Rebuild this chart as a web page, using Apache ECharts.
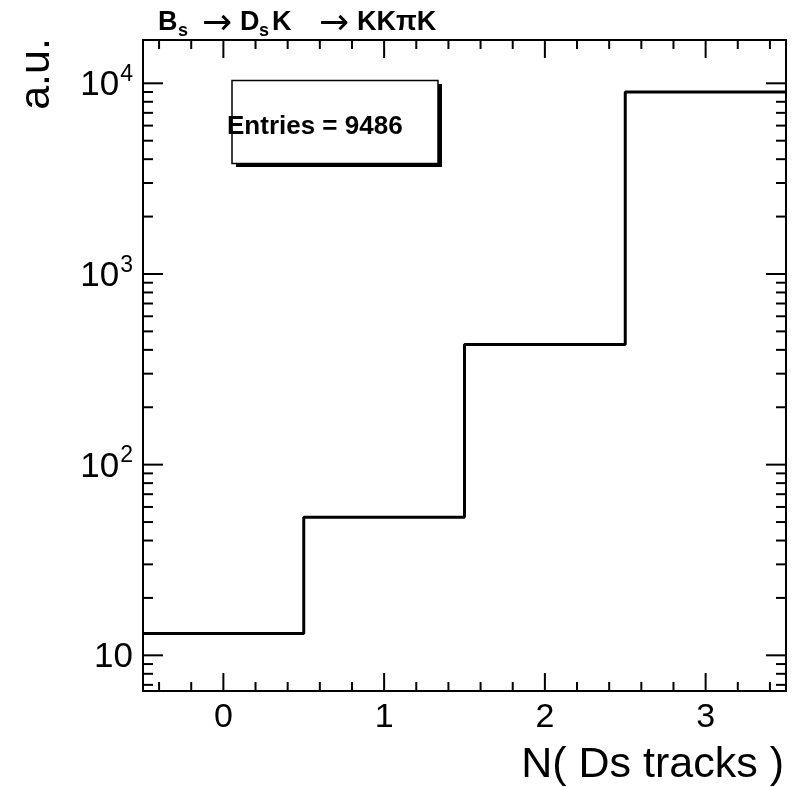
<!DOCTYPE html>
<html>
<head>
<meta charset="utf-8">
<script src="https://cdn.jsdelivr.net/npm/echarts@6/dist/echarts.min.js"></script>
<style>
html,body{margin:0;padding:0;background:#fff;}
#chart{width:798px;height:787px;}
</style>
</head>
<body>
<div id="chart"></div>
<script>
// ---- data ----
const binEdges = [-0.5, 0.5, 1.5, 2.5, 3.5];
const binCenters = [0, 1, 2, 3];
const binCounts = [13, 53, 427, 8993];
const entries = 9486;
const xRange = [-0.5, 3.5];
const yRange = [6.5, 16870];
const xName = 'N( Ds tracks )';
const yName = 'a.u.';

const FONT = '"Liberation Sans", Arial, Helvetica, sans-serif';
const SYM = '"DejaVu Sans", sans-serif';

// histogram step points from bin edges
const stepData = [];
for (let i = 0; i < binCounts.length; i++) stepData.push([binEdges[i], binCounts[i]]);
stepData.push([binEdges[binEdges.length - 1], binCounts[binCounts.length - 1]]);

// tick positions
const xTicks = [];
for (let i = -2; i <= 17; i++) xTicks.push(i / 5);
const yTicks = [];
[1, 10, 100, 1000].forEach(d => { for (let m = 1; m <= 9; m++) { const v = d * m; if (v >= yRange[0] && v <= yRange[1]) yTicks.push(v); } });
yTicks.push(10000);

const chart = echarts.init(document.getElementById('chart'), null, {renderer: 'canvas'});

function isDecade(v) { const e = Math.log10(v); return Math.abs(e - Math.round(e)) < 1e-6; }

function tPiece(text, x, y, size, opts) {
  return Object.assign({
    type: 'text', x: x, y: y, silent: true,
    style: {text: text, fontFamily: FONT, fontWeight: 'bold', fontSize: size, fill: '#000', align: 'left', verticalAlign: 'middle'}
  }, opts || {});
}

const titleParts = [
  tPiece('B', 158, 22.5, 27),
  tPiece('s', 178, 31, 18),
  {type: 'text', x: 202, y: 25, silent: true, style: {text: '→', fontFamily: SYM, fontSize: 36, fill: '#000', align: 'left', verticalAlign: 'middle'}},
  tPiece('D', 240, 22.5, 27),
  tPiece('s', 259, 31, 18),
  tPiece('K', 272, 22.5, 27),
  {type: 'text', x: 319, y: 25, silent: true, style: {text: '→', fontFamily: SYM, fontSize: 36, fill: '#000', align: 'left', verticalAlign: 'middle'}},
  tPiece('KKπK', 357, 22.5, 27)
];

const option = {
  animation: false,
  backgroundColor: '#fff',
  grid: {left: 143, right: 12, top: 40, bottom: 96, show: true, borderColor: '#000', borderWidth: 2, backgroundColor: 'transparent'},
  xAxis: {
    type: 'value', min: xRange[0], max: xRange[1], interval: 0.5,
    axisLine: {show: false}, axisTick: {show: false}, splitLine: {show: false},
    axisLabel: {
      margin: 10, color: '#000', fontFamily: FONT, fontSize: 34,
      formatter: v => (Math.abs(v - Math.round(v)) < 1e-6 && v > -0.5 && v < 3.5) ? String(Math.round(v)) : ''
    }
  },
  yAxis: {
    type: 'log', logBase: 10, min: yRange[0], max: yRange[1],
    axisLine: {show: false}, axisTick: {show: false}, splitLine: {show: false},
    axisLabel: {
      margin: 10, color: '#000', fontFamily: FONT, fontSize: 34,
      showMinLabel: false, showMaxLabel: false,
      formatter: v => {
        if (!isDecade(v)) return '';
        const e = Math.round(Math.log10(v));
        if (e === 1) return '{b|10}';
        return '{b|10}{sup|' + e + '}';
      },
      rich: {
        b: {fontFamily: FONT, fontSize: 35, color: '#000', lineHeight: 40, verticalAlign: 'bottom'},
        sup: {fontFamily: FONT, fontSize: 23, color: '#000', lineHeight: 40, verticalAlign: 'top', padding: [0, 0, 0, 1]}
      }
    }
  },
  series: [
    {
      type: 'line', step: 'end', data: stepData, symbol: 'none',
      lineStyle: {color: '#000', width: 3}, z: 5, silent: true
    },
    {
      type: 'custom', coordinateSystem: 'cartesian2d', data: [[binCenters[0], binCounts[0]]],
      silent: true, clip: false, z: 10,
      renderItem: function (params, api) {
        const cs = params.coordSys;
        const L = cs.x, R = cs.x + cs.width, T = cs.y, B = cs.y + cs.height;
        const ch = [];
        const st = {stroke: '#000', lineWidth: 2};
        xTicks.forEach(v => {
          const x = api.coord([v, yRange[0]])[0];
          const major = Math.abs(v - Math.round(v)) < 1e-6;
          const len = major ? 18 : 9;
          ch.push({type: 'line', shape: {x1: x, y1: B, x2: x, y2: B - len}, style: st});
          ch.push({type: 'line', shape: {x1: x, y1: T, x2: x, y2: T + len}, style: st});
        });
        yTicks.forEach(v => {
          const y = api.coord([xRange[0], v])[1];
          const len = isDecade(v) ? 20 : 10;
          ch.push({type: 'line', shape: {x1: L, y1: y, x2: L + len, y2: y}, style: st});
          ch.push({type: 'line', shape: {x1: R, y1: y, x2: R - len, y2: y}, style: st});
        });
        return {type: 'group', children: ch};
      }
    }
  ],
  graphic: titleParts.concat([
    {type: 'rect', shape: {x: 236, y: 84, width: 206, height: 83}, style: {fill: '#000'}, silent: true},
    {type: 'rect', shape: {x: 232, y: 80.5, width: 206, height: 83}, style: {fill: '#fff', stroke: '#000', lineWidth: 1.5}, silent: true},
    {
      type: 'text', x: 227, y: 127, silent: true,
      style: {text: 'Entries = ' + entries, fontFamily: FONT, fontWeight: 'bold', fontSize: 26, fill: '#000', verticalAlign: 'middle', align: 'left'}
    },
    {
      type: 'text', x: 784, y: 765, silent: true,
      style: {text: xName, fontFamily: FONT, fontSize: 43, fill: '#000', align: 'right', verticalAlign: 'middle'}
    },
    {
      type: 'text', x: 37, y: 74, rotation: Math.PI / 2, silent: true,
      style: {text: yName, fontFamily: FONT, fontSize: 43, fill: '#000', align: 'center', verticalAlign: 'middle'}
    }
  ])
};
chart.setOption(option);
</script>
</body>
</html>
